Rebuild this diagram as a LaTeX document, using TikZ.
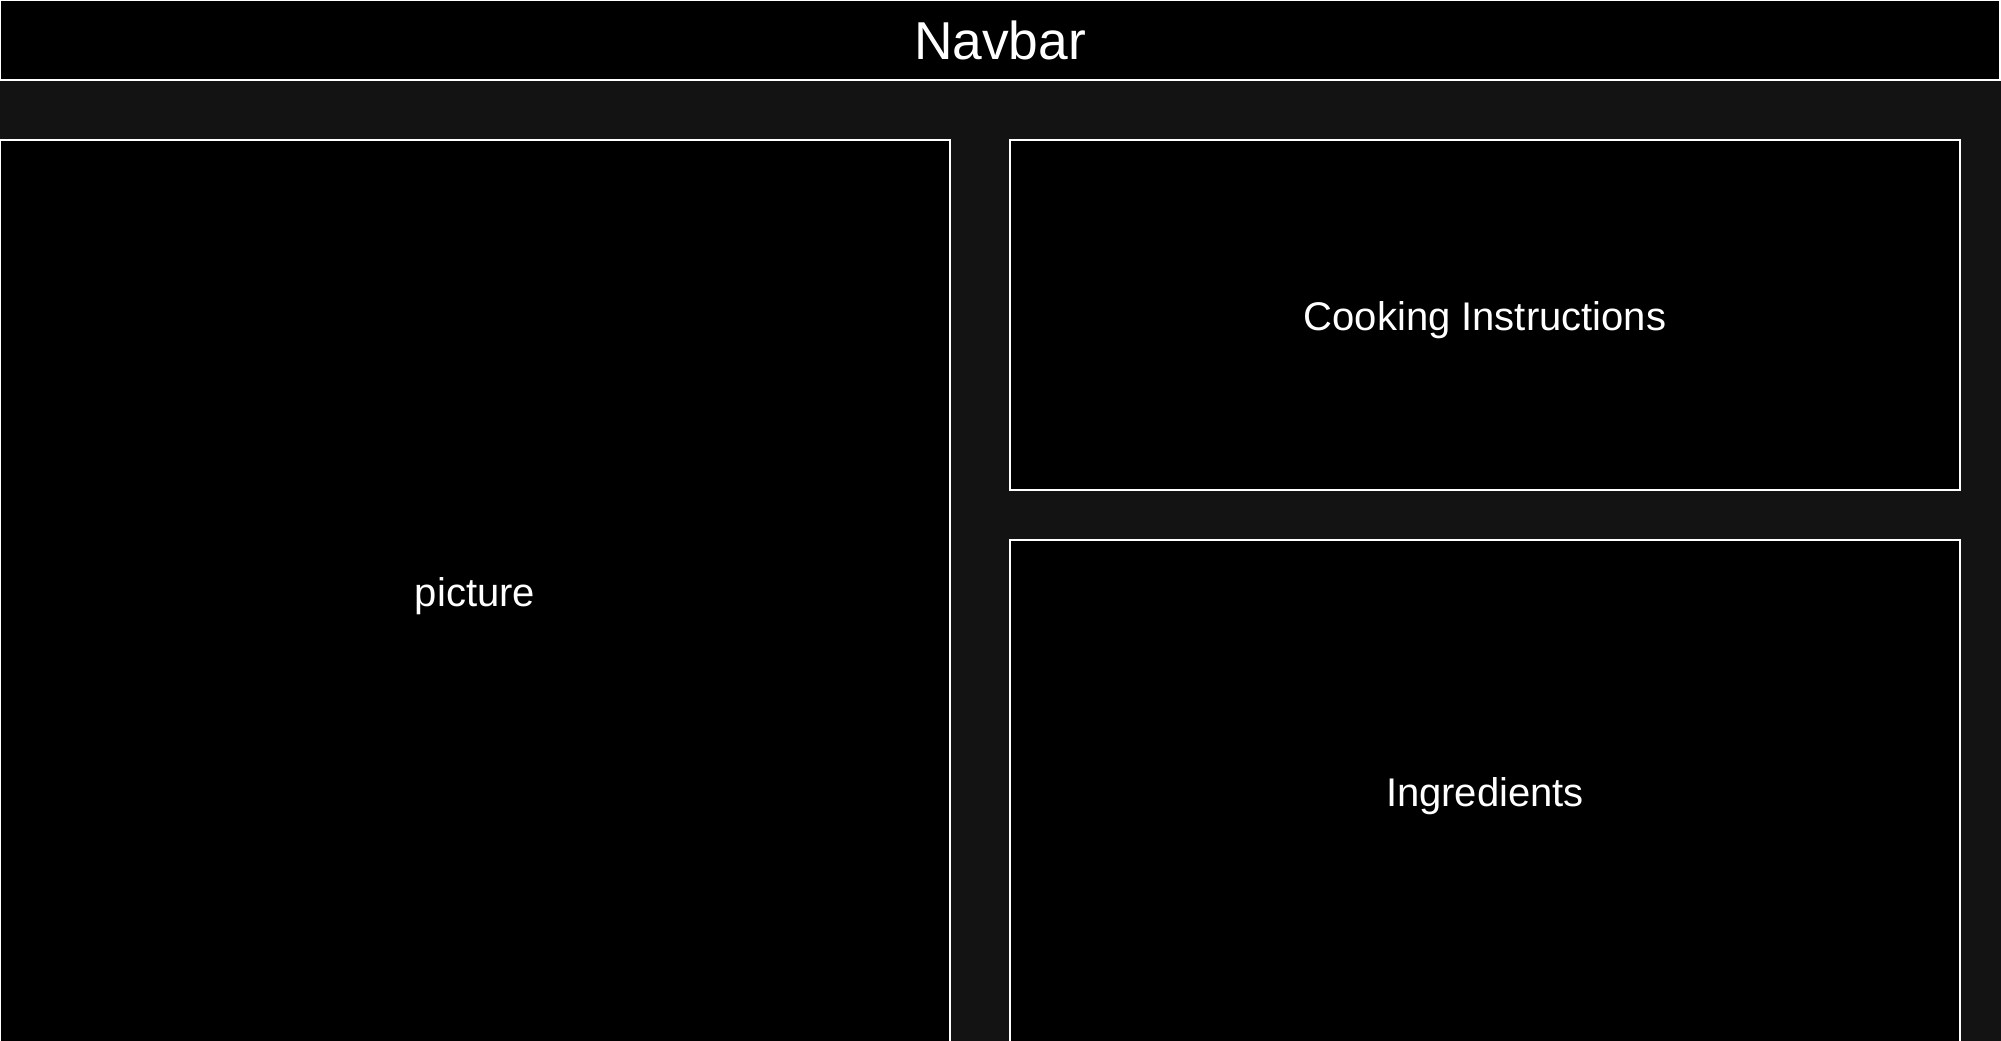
\documentclass[tikz,border=0pt]{standalone}
\usepackage{fontspec}
\setmainfont{Liberation Sans}
\definecolor{pagebg}{HTML}{131313}
\tikzset{
  px/.style={x=0.75pt,y=-0.75pt},
  panel/.style={draw=white, line width=0.9pt, fill=black, text=white, inner sep=0pt, outer sep=0pt, anchor=north west},
  navtext/.style={font=\fontsize{40}{48}\selectfont},
  paneltext/.style={font=\fontsize{30}{36}\selectfont}
}
\begin{document}
\begin{tikzpicture}[px]
\useasboundingbox (0,0) rectangle (2001,1041);
\fill[pagebg] (0,0) rectangle (2001,1041);
\node[panel, navtext, minimum width=1999.5*0.75pt, minimum height=79.5*0.75pt] (nav) at (0.5,0.5) {};
\node[text=white, navtext] (navlabel) at (1000,40) {Navbar};
\node[panel, minimum width=949.5*0.75pt, minimum height=902*0.75pt] (pic) at (0.5,140) {};
\node[text=white, paneltext] (piclabel) at (475,596) {picture};
\node[panel, minimum width=950*0.75pt, minimum height=350*0.75pt] (cook) at (1010,140) {};
\node[text=white, paneltext] (cooklabel) at (1485,320) {Cooking Instructions};
\node[panel, minimum width=950*0.75pt, minimum height=502*0.75pt] (ingr) at (1010,540) {};
\node[text=white, paneltext] (ingrlabel) at (1485,796) {Ingredients};
\end{tikzpicture}
\end{document}
